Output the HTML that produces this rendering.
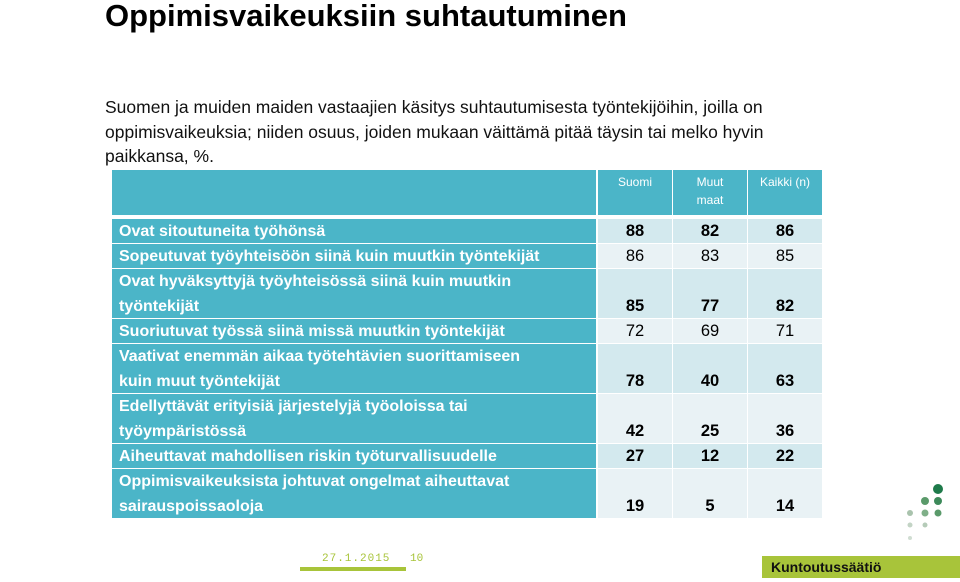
<!DOCTYPE html>
<html><head><meta charset="utf-8">
<style>
body{margin:0;width:960px;height:582px;background:#fff;position:relative;overflow:hidden;font-family:"Liberation Sans",sans-serif}
.abs{position:absolute}
#title{left:105px;top:-2px;font-size:31px;font-weight:bold;color:#000;white-space:nowrap}
#sub{left:105px;top:95px;width:740px;font-size:17.5px;line-height:24.5px;color:#111}
.cell{position:absolute;box-sizing:border-box}
.lab{background:#4bb5c8;color:#fff;font-weight:bold;font-size:16px;line-height:25px;padding:0 0 0 7px}
.num{font-size:16.5px;color:#000;text-align:center;display:flex;align-items:flex-end;justify-content:center;padding-bottom:2px}
.hd{background:#4bb5c8;color:#fff;font-size:12px;line-height:18px;text-align:center;padding-top:3px}
</style></head><body>
<div id="title" class="abs">Oppimisvaikeuksiin suhtautuminen</div>
<div id="sub" class="abs">Suomen ja muiden maiden vastaajien käsitys suhtautumisesta työntekijöihin, joilla on oppimisvaikeuksia; niiden osuus, joiden mukaan väittämä pitää täysin tai melko hyvin paikkansa, %.</div>
<div id="table"></div>

<div class="abs" style="left:322px;top:553px;font-family:'Liberation Mono',monospace;font-size:11px;color:#a8c43a;letter-spacing:1px">27.1.2015</div>
<div class="abs" style="left:410px;top:553px;font-family:'Liberation Mono',monospace;font-size:11px;color:#a8c43a">10</div>
<div class="abs" style="left:300px;top:567px;width:106px;height:4px;background:#a8c43a"></div>
<div class="abs" style="left:762px;top:556px;width:198px;height:22px;background:#a8c43a;color:#111;font-weight:bold;font-size:14px;line-height:22px;padding-left:9px;box-sizing:border-box">Kuntoutussäätiö</div>
<svg class="abs" style="left:900px;top:480px" width="50" height="70">
<circle cx="38" cy="9" r="5" fill="#1e7a4a"/>
<circle cx="25" cy="21" r="4" fill="#5a9a6a"/><circle cx="38" cy="21" r="4" fill="#3d8a5a"/>
<circle cx="10" cy="33" r="3" fill="#a9c3ad"/><circle cx="25" cy="33" r="3.5" fill="#7faf88"/><circle cx="38" cy="33" r="3.5" fill="#5a9a6a"/>
<circle cx="10" cy="45" r="2.5" fill="#c3d4c5"/><circle cx="25" cy="45" r="2.5" fill="#b5cbb8"/>
<circle cx="10" cy="58" r="2" fill="#d0ddd2"/>
</svg>

<script>
const headers = ["Suomi","Muut<br>maat","Kaikki (n)"];
const labels = ["Ovat sitoutuneita työhönsä","Sopeutuvat työyhteisöön siinä kuin muutkin työntekijät","Ovat hyväksyttyjä työyhteisössä siinä kuin muutkin<br>työntekijät","Suoriutuvat työssä siinä missä muutkin työntekijät","Vaativat enemmän aikaa työtehtävien suorittamiseen<br>kuin muut työntekijät","Edellyttävät erityisiä järjestelyjä työoloissa tai<br>työympäristössä","Aiheuttavat mahdollisen riskin työturvallisuudelle","Oppimisvaikeuksista johtuvat ongelmat aiheuttavat<br>sairauspoissaoloja"];
const suomi = [88,86,85,72,78,42,27,19];
const muut = [82,83,77,69,40,25,12,5];
const kaikki = [86,85,82,71,63,36,22,14];
const bold = [1,0,1,0,1,1,1,1];

const T = document.getElementById('table');
const colX = [112,597,672,747,822];
function mk(cls, x, y, w, h, html){
  const d=document.createElement('div');
  d.className='cell '+cls;
  d.style.left=x+'px';d.style.top=y+'px';d.style.width=w+'px';d.style.height=h+'px';
  d.innerHTML=html;
  T.appendChild(d);
  return d;
}
// header
const hb = mk('hd',112,170,484,45,'');


headers.forEach((h,i)=>{
  const d = mk('hd',colX[i+1]+1,170,colX[i+2]-colX[i+1]-1,45,h);
  
  
});
let y = 219;
labels.forEach((lab,i)=>{
  const two = lab.indexOf('<br>')>=0;
  const h = two?50:25;
  const l = mk('lab',112,y,484,h-1,lab);
  
  
  const bg = (i%2===0)?'#d3e9ee':'#e9f2f5';
  [suomi[i],muut[i],kaikki[i]].forEach((v,j)=>{
    const c = mk('num',colX[j+1]+1,y,colX[j+2]-colX[j+1]-1,h-1,String(v));
    c.style.background=bg;
    c.style.fontWeight=bold[i]?'bold':'normal';
    
    
  });
  y += h;
});
</script>
</body></html>
